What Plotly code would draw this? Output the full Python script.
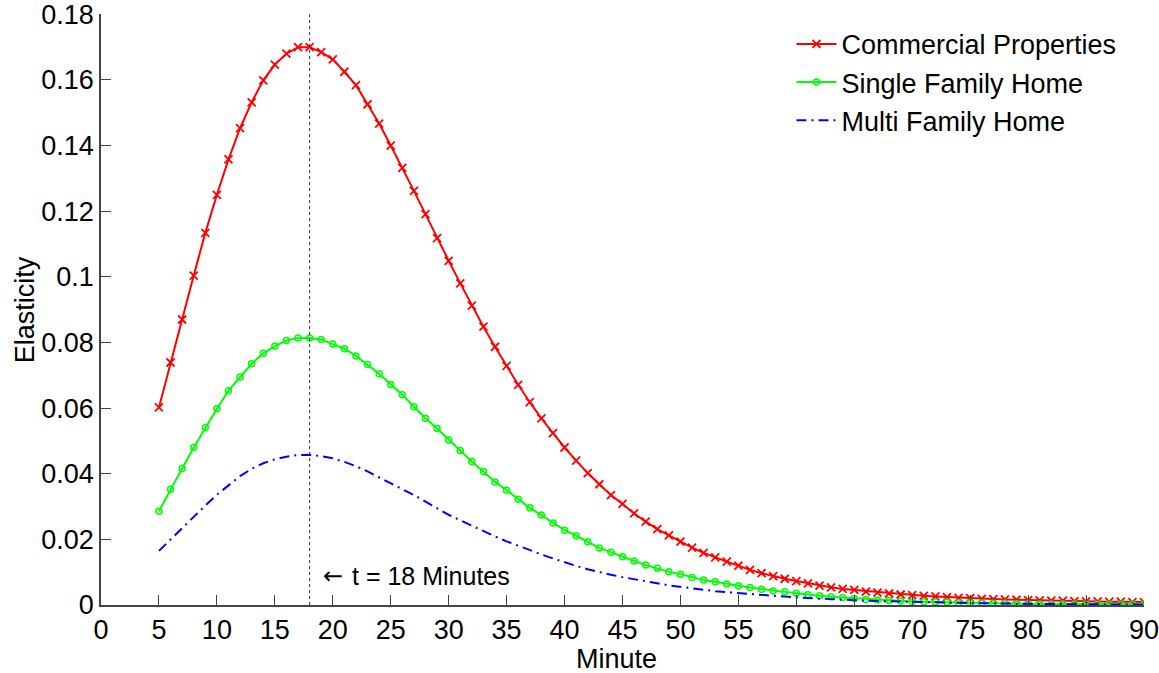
import plotly.graph_objects as go

minutes = list(range(5, 91))

commercial = [
    0.0602, 0.0739, 0.0870, 0.1004, 0.1134, 0.1250, 0.1358, 0.1453, 0.1532, 0.1599,
    0.1647, 0.1680, 0.1700, 0.1700, 0.1685, 0.1663, 0.1625, 0.1584, 0.1526, 0.1467,
    0.1400, 0.1332, 0.1262, 0.1191, 0.1118, 0.1049, 0.0980, 0.0912, 0.0848, 0.0787,
    0.0729, 0.0671, 0.0618, 0.0569, 0.0524, 0.0480, 0.0440, 0.0402, 0.0368, 0.0335,
    0.0308, 0.0279, 0.0254, 0.0231, 0.0212, 0.0193, 0.0175, 0.0159, 0.0145, 0.0132,
    0.0120, 0.0107, 0.0097, 0.0088, 0.0080, 0.0073, 0.0066, 0.0059, 0.0054, 0.0049,
    0.0046, 0.0041, 0.0038, 0.0035, 0.0032, 0.0030, 0.0028, 0.0026, 0.0024, 0.0022,
    0.0021, 0.0019, 0.0018, 0.0017, 0.0016, 0.0015, 0.0014, 0.0013, 0.0013, 0.0012,
    0.0011, 0.0011, 0.0010, 0.0010, 0.0009, 0.0009,
]

single_family = [
    0.0286, 0.0353, 0.0416, 0.0480, 0.0541, 0.0598, 0.0653, 0.0695, 0.0735, 0.0767,
    0.0789, 0.0806, 0.0814, 0.0814, 0.0809, 0.0795, 0.0781, 0.0759, 0.0733, 0.0705,
    0.0672, 0.0641, 0.0604, 0.0569, 0.0538, 0.0503, 0.0471, 0.0437, 0.0407, 0.0375,
    0.0350, 0.0322, 0.0296, 0.0274, 0.0250, 0.0228, 0.0211, 0.0193, 0.0174, 0.0161,
    0.0147, 0.0134, 0.0122, 0.0112, 0.0101, 0.0094, 0.0084, 0.0076, 0.0071, 0.0064,
    0.0059, 0.0053, 0.0048, 0.0043, 0.0040, 0.0036, 0.0031, 0.0028, 0.0025, 0.0023,
    0.0020, 0.0017, 0.0015, 0.0014, 0.0012, 0.0011, 0.0010, 0.0009, 0.0008, 0.0007,
    0.0007, 0.0006, 0.0005, 0.0005, 0.0004, 0.0004, 0.0003, 0.0003, 0.0003, 0.0003,
    0.0002, 0.0002, 0.0002, 0.0002, 0.0002, 0.0002,
]

multi_family = [
    0.0165, 0.0200, 0.0236, 0.0271, 0.0303, 0.0336, 0.0366, 0.0393, 0.0415, 0.0432,
    0.0444, 0.0452, 0.0457, 0.0458, 0.0454, 0.0447, 0.0436, 0.0423, 0.0407, 0.0389,
    0.0372, 0.0355, 0.0335, 0.0315, 0.0294, 0.0275, 0.0258, 0.0241, 0.0225, 0.0209,
    0.0194, 0.0180, 0.0166, 0.0154, 0.0142, 0.0130, 0.0119, 0.0109, 0.0100, 0.0092,
    0.0085, 0.0078, 0.0072, 0.0066, 0.0060, 0.0055, 0.0051, 0.0046, 0.0042, 0.0039,
    0.0036, 0.0033, 0.0030, 0.0028, 0.0025, 0.0023, 0.0021, 0.0019, 0.0017, 0.0016,
    0.0014, 0.0013, 0.0012, 0.0011, 0.0010, 0.0009, 0.0008, 0.0008, 0.0007, 0.0006,
    0.0006, 0.0005, 0.0005, 0.0004, 0.0004, 0.0004, 0.0003, 0.0003, 0.0003, 0.0002,
    0.0002, 0.0002, 0.0002, 0.0002, 0.0001, 0.0001,
]

x_ticks = [0, 5, 10, 15, 20, 25, 30, 35, 40, 45, 50, 55, 60, 65, 70, 75, 80, 85, 90]
y_ticks = [0, 0.02, 0.04, 0.06, 0.08, 0.1, 0.12, 0.14, 0.16, 0.18]
y_tick_labels = ["0", "0.02", "0.04", "0.06", "0.08", "0.1", "0.12", "0.14", "0.16", "0.18"]

peak_minute = 18
annotation_arrow = "\u2190"
annotation_text = "t = 18 Minutes"
x_title = "Minute"
y_title = "Elasticity"

FONT = "Liberation Sans, Arial, sans-serif"

fig = go.Figure()

fig.add_trace(go.Scatter(
    x=minutes, y=commercial, name="Commercial Properties",
    mode="lines+markers",
    line=dict(color="#FF0000", width=2),
    marker=dict(symbol="x-thin-open", size=8, color="#FF0000",
                line=dict(color="#FF0000", width=1.8)),
))
fig.add_trace(go.Scatter(
    x=minutes, y=single_family, name="Single Family Home",
    mode="lines+markers",
    line=dict(color="#00FF00", width=2),
    marker=dict(symbol="circle-open", size=6, color="#00FF00",
                line=dict(color="#00FF00", width=1.5)),
))
fig.add_trace(go.Scatter(
    x=minutes, y=multi_family, name="Multi Family Home",
    mode="lines",
    line=dict(color="#0000FF", width=2, dash="10px,5px,2px,5px"),
))

# vertical dotted marker line at the peak
fig.add_shape(type="line", x0=peak_minute, x1=peak_minute, y0=0, y1=0.18,
              xref="x", yref="y", line=dict(color="#333", width=1, dash="dot"))

fig.add_annotation(x=19.0, y=0.0088, xref="x", yref="y",
                   text=annotation_arrow, showarrow=False, xanchor="left",
                   font=dict(family="DejaVu Sans", size=24, color="black"))
fig.add_annotation(x=21.5, y=0.0088, xref="x", yref="y",
                   text=annotation_text, showarrow=False, xanchor="left",
                   font=dict(family=FONT, size=25, color="black"))

# axis titles
fig.add_annotation(x=0.494, y=-0.092, xref="paper", yref="paper",
                   text=x_title, showarrow=False, xanchor="center", yanchor="middle",
                   font=dict(family=FONT, size=27, color="black"))
fig.add_annotation(x=-0.073, y=0.50, xref="paper", yref="paper",
                   text=y_title, showarrow=False, textangle=-90,
                   xanchor="center", yanchor="middle",
                   font=dict(family=FONT, size=27, color="black"))

fig.update_layout(
    width=1159, height=673,
    margin=dict(l=101, r=15, t=14, b=68, autoexpand=False),
    paper_bgcolor="white", plot_bgcolor="white",
    font=dict(family=FONT, size=27, color="black"),
    showlegend=True,
    legend=dict(x=0.662, y=0.99, xanchor="left", yanchor="top",
                bgcolor="rgba(0,0,0,0)", font=dict(family=FONT, size=27),
                itemwidth=40, tracegroupgap=0),
)

fig.update_xaxes(
    range=[0, 90], tickvals=x_ticks, ticktext=[str(v) for v in x_ticks],
    ticks="inside", ticklen=10, tickcolor="#444", tickwidth=1,
    showline=True, linecolor="#444", linewidth=1.5, mirror=False,
    showgrid=False, zeroline=False, automargin=False,
    tickfont=dict(family=FONT, size=27), ticklabeloverflow="allow",
)
fig.update_yaxes(
    range=[0, 0.1801], tickvals=y_ticks, ticktext=y_tick_labels,
    ticks="inside", ticklen=10, tickcolor="#444", tickwidth=1,
    showline=True, linecolor="#444", linewidth=1.5, mirror=False,
    showgrid=False, zeroline=False, automargin=False,
    tickfont=dict(family=FONT, size=27), ticklabeloverflow="allow",
)

fig.write_html("out.html", config={"displayModeBar": False},
               post_script="document.body.style.margin='0';")
